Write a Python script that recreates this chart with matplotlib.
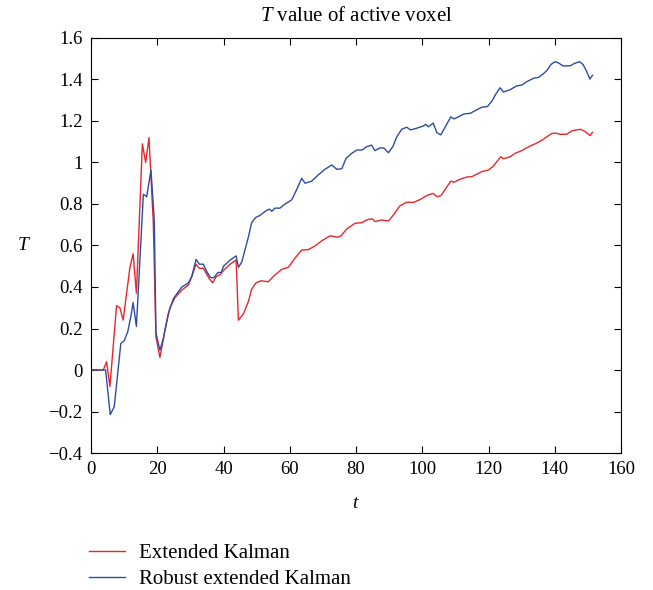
import matplotlib.pyplot as plt

plt.rcParams['font.family'] = ['Liberation Serif', 'DejaVu Serif']
plt.rcParams['mathtext.fontset'] = 'custom'
plt.rcParams['mathtext.rm'] = 'Liberation Serif'
plt.rcParams['mathtext.it'] = 'Liberation Serif:italic'

# Extended Kalman (red)
t_ekf = [0, 3.7, 4.7, 5.7, 7.7, 8.7, 9.7, 11.7, 12.7, 13.7, 15.5, 16.5, 17.5,
         18.8, 19.6, 20.8, 22.3, 23.8, 25.4, 27.4, 29.4, 30.4, 31.7, 32.7, 33.9,
         35.7, 36.7, 37.8, 39, 40, 42, 43.8, 44.5, 46, 47.5, 48.5, 49.8, 51.3,
         53.5, 55.5, 57.6, 59.6, 61.6, 63.6, 65.6, 67.6, 69.6, 72.2, 74.2, 75.4,
         77.2, 79.7, 81.7, 83.7, 85, 85.7, 87.7, 89.8, 91.3, 93.2, 95.2, 97.4,
         99.4, 101.5, 103.3, 104.5, 105.6, 106.9, 108.6, 109.6, 111.5, 113.5,
         115, 116.5, 118, 120, 121.5, 122.5, 123.7, 124.5, 126.6, 128, 130,
         132.1, 134.1, 136.2, 137.6, 139.1, 140.1, 141.6, 143.6, 145.1, 146.5,
         147.7, 148.9, 150.1, 150.6, 151.4]
T_ekf = [0, 0, 0.04, -0.08, 0.31, 0.30, 0.24, 0.49, 0.56, 0.37, 1.09, 1.0, 1.12,
         0.71, 0.16, 0.06, 0.19, 0.30, 0.35, 0.385, 0.41, 0.45, 0.51, 0.49, 0.49,
         0.44, 0.42, 0.45, 0.46, 0.48, 0.51, 0.53, 0.24, 0.27, 0.33, 0.39, 0.42, 0.43,
         0.425, 0.458, 0.485, 0.495, 0.54, 0.578, 0.58, 0.598, 0.622, 0.647, 0.64, 0.645,
         0.68, 0.707, 0.71, 0.726, 0.728, 0.715, 0.723, 0.718, 0.747, 0.79, 0.808, 0.808,
         0.822, 0.842, 0.851, 0.835, 0.84, 0.87, 0.91, 0.905, 0.92, 0.93,
         0.932, 0.944, 0.956, 0.964, 0.983, 1.004, 1.028, 1.018, 1.028, 1.044, 1.057,
         1.076, 1.09, 1.108, 1.124, 1.14, 1.142, 1.136, 1.136, 1.152, 1.157,
         1.16, 1.152, 1.137, 1.13, 1.145]

# Robust extended Kalman (blue)
t_rekf = [0, 3.7, 4.4, 5.8, 7, 9, 10, 11.1, 12.1, 12.7, 13.7, 15.8, 16.8, 18.1,
          19.1, 19.6, 20.8, 21.8, 23.3, 24.9, 27.4, 29.4, 30.4, 31.7, 32.7, 33.9,
          35.1, 36.1, 37.1, 38.3, 39.3, 40, 42, 43.8, 44.5, 45.5, 46.5, 47.5, 48.5,
          49.7, 51, 51.8, 53.1, 53.9, 54.6, 55.5, 57, 58.6, 60.6, 62.1, 63.6, 64.6,
          66.6, 68.6, 70.6, 72.7, 74.2, 75.7, 77, 78.7, 80.2, 81.8, 83.2, 84.7, 85.7,
          87.2, 88.4, 89.8, 91.1, 92.3, 93.8, 95.3, 96.5, 98.3, 100.3, 101.1, 101.8,
          103.3, 104.4, 105.6, 106.9, 108.6, 109.6, 110.9, 112.6, 114.5, 116, 117.9,
          119.7, 121.2, 122.2, 123.5, 124.5, 126.4, 128.5, 130, 131.6, 133.6, 135.1,
          136.5, 137.6, 138.9, 140.1, 141.1, 142.6, 144.7, 145.9, 147.5, 148.5,
          149.6, 150.6, 151.4]
T_rekf = [0, 0, 0, -0.215, -0.177, 0.128, 0.14, 0.185, 0.265, 0.325, 0.21, 0.847, 0.835, 0.964,
          0.72, 0.178, 0.096, 0.15, 0.27, 0.345, 0.40, 0.42, 0.45, 0.533, 0.51, 0.51,
          0.47, 0.445, 0.445, 0.47, 0.47, 0.50, 0.53, 0.55, 0.495, 0.52, 0.58, 0.64, 0.71,
          0.735, 0.745, 0.755, 0.77, 0.775, 0.765, 0.78, 0.78, 0.80, 0.82, 0.87, 0.924, 0.90,
          0.91, 0.94, 0.967, 0.988, 0.967, 0.97, 1.02, 1.044, 1.06, 1.06, 1.076, 1.084, 1.057,
          1.07, 1.07, 1.047, 1.076, 1.124, 1.16, 1.17, 1.157, 1.165, 1.176, 1.184, 1.172,
          1.19, 1.144, 1.133, 1.17, 1.22, 1.21, 1.22, 1.234, 1.237, 1.25, 1.266,
          1.27, 1.30, 1.33, 1.36, 1.34, 1.35, 1.369, 1.373, 1.39, 1.406, 1.41,
          1.427, 1.443, 1.473, 1.486, 1.48, 1.465, 1.466, 1.477, 1.486, 1.473,
          1.44, 1.402, 1.42]

xticks = [0, 20, 40, 60, 80, 100, 120, 140, 160]
yticks = [-0.4, -0.2, 0, 0.2, 0.4, 0.6, 0.8, 1, 1.2, 1.4, 1.6]
ytick_labels = ['−0.4', '−0.2', '0', '0.2', '0.4', '0.6', '0.8', '1', '1.2', '1.4', '1.6']

fig = plt.figure(figsize=(6.53, 5.9), dpi=100)
ax = fig.add_axes([0.1394, 0.2322, 0.8116, 0.7034])

ax.plot(t_ekf, T_ekf, color='#e8262b', lw=1.0, label='Extended Kalman')
ax.plot(t_rekf, T_rekf, color='#2d4da3', lw=1.0, label='Robust extended Kalman')

ax.set_xlim(0, 160)
ax.set_ylim(-0.4, 1.6)
ax.set_xticks(xticks)
ax.set_xticklabels([str(v) for v in xticks])
ax.set_yticks(yticks)
ax.set_yticklabels(ytick_labels)
ax.tick_params(direction='in', top=True, right=True, length=5, width=0.8,
               labelsize=13.5, pad=6)
for s in ax.spines.values():
    s.set_linewidth(0.8)

ax.set_title('$T$ value of active voxel', fontsize=15, pad=12)
ax.set_xlabel('$t$', fontsize=14, labelpad=12)
ax.set_ylabel('$T$', fontsize=14, rotation=0, labelpad=18, va='center')

fig.legend(loc='upper left', bbox_to_anchor=(0.108, 0.11), frameon=False,
           fontsize=15, handlelength=1.7, handletextpad=0.67, labelspacing=0.3)

fig.savefig('out.png', dpi=100)
